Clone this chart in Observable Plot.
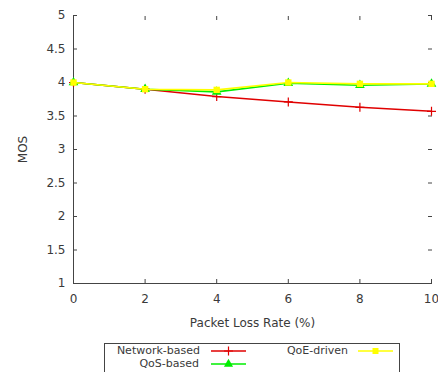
<!DOCTYPE html>
<html><head><meta charset="utf-8">
<script src="https://cdn.jsdelivr.net/npm/d3@7"></script>
<script src="https://cdn.jsdelivr.net/npm/@observablehq/plot@0.6"></script>
<style>
body{margin:0;background:#fff;font-family:"DejaVu Sans",sans-serif;}
#wrap{position:relative;width:438px;height:372px;overflow:hidden;}
#legend{position:absolute;left:104px;top:343px;width:296px;height:40px;border:1px solid #444;box-sizing:border-box;font-size:11px;color:#3a3a3a;}
.lt{position:absolute;text-align:right;white-space:nowrap;}
.ls{position:absolute;}
</style></head>
<body><div id="wrap"><div id="chart"></div><div id="legend"></div></div>
<script>
const lossRate = [0, 2, 4, 6, 8, 10];
const networkBased = [4.0, 3.9, 3.79, 3.71, 3.63, 3.57];
const qosBased = [4.0, 3.9, 3.86, 3.99, 3.96, 3.98];
const qoeDriven = [4.0, 3.9, 3.89, 4.0, 3.98, 3.98];
const seriesNames = ["Network-based", "QoS-based", "QoE-driven"];
const seriesColors = ["#e00000", "#00ee00", "#ffff00"];
const seriesSymbols = ["plus", "triangle", "square"];
const xTicks = [0, 2, 4, 6, 8, 10];
const yTicks = [1, 1.5, 2, 2.5, 3, 3.5, 4, 4.5, 5];

const allSeries = [networkBased, qosBased, qoeDriven];
const data = allSeries.flatMap((vals, i) => vals.map((v, j) => ({x: lossRate[j], y: v, s: seriesNames[i]})));
const fmt = d => String(d);
const marks = [
  Plot.ruleX([0], {stroke: "#444"}),
  Plot.ruleY([1], {stroke: "#444"}),
  Plot.axisX({ticks: xTicks, tickSize: 0, tickPadding: 11, tickFormat: fmt, fontSize: 12, color: "#3a3a3a", label: "Packet Loss Rate (%)", labelAnchor: "center", labelArrow: "none", labelOffset: 43}),
  Plot.axisX({ticks: xTicks, tickSize: -4, tickFormat: () => "", label: null, stroke: "#444"}),
  Plot.axisX({anchor: "top", ticks: xTicks, tickSize: -4, tickFormat: () => "", label: null, stroke: "#444"}),
  Plot.axisY({ticks: yTicks, tickSize: 0, tickPadding: 8, tickFormat: fmt, fontSize: 12, color: "#3a3a3a", label: "MOS", labelAnchor: "center", labelArrow: "none", labelOffset: 55}),
  Plot.axisY({ticks: yTicks, tickSize: -4, tickFormat: () => "", label: null, stroke: "#444"}),
  Plot.axisY({anchor: "right", ticks: yTicks, tickSize: -4, tickFormat: () => "", label: null, stroke: "#444"})
];
seriesNames.forEach((name, i) => {
  const d = data.filter(r => r.s === name);
  marks.push(Plot.line(d, {x: "x", y: "y", stroke: seriesColors[i], strokeWidth: 1.6}));
  if (seriesSymbols[i] === "plus")
    marks.push(Plot.dot(d, {x: "x", y: "y", symbol: "plus", stroke: seriesColors[i], strokeWidth: 1.2, r: 3}));
  else
    marks.push(Plot.dot(d, {x: "x", y: "y", symbol: seriesSymbols[i], fill: seriesColors[i], stroke: "none", r: 3.6}));
});
const chart = Plot.plot({
  width: 438, height: 343,
  marginLeft: 73, marginRight: 7, marginTop: 15, marginBottom: 60,
  style: {fontFamily: "DejaVu Sans, sans-serif", fontSize: "12px", color: "#3a3a3a", background: "white", overflow: "visible"},
  x: {domain: [0, 10]},
  y: {domain: [1, 5]},
  marks
});
document.getElementById("chart").appendChild(chart);

// legend
const leg = document.getElementById("legend");
const items = [
  {name: seriesNames[0], color: seriesColors[0], sym: "plus", tx: 97, sx: 106, y: 7},
  {name: seriesNames[1], color: seriesColors[1], sym: "triangle", tx: 96, sx: 106, y: 20},
  {name: seriesNames[2], color: seriesColors[2], sym: "square", tx: 245, sx: 253, y: 7}
];
items.forEach(it => {
  const t = document.createElement("div");
  t.className = "lt";
  t.textContent = it.name;
  t.style.right = (296 - it.tx) + "px";
  t.style.top = (it.y - 7) + "px";
  t.style.lineHeight = "14px";
  leg.appendChild(t);
  const s = document.createElementNS("http://www.w3.org/2000/svg", "svg");
  s.setAttribute("width", 36); s.setAttribute("height", 14);
  s.setAttribute("class", "ls");
  s.style.left = it.sx + "px"; s.style.top = (it.y - 7) + "px";
  const sym = {plus: d3.symbolPlus, triangle: d3.symbolTriangle, square: d3.symbolSquare}[it.sym];
  const path = d3.symbol(sym, it.sym === "plus" ? 28 : 36)();
  s.innerHTML = `<line x1="0" x2="35" y1="7" y2="7" stroke="${it.color}" stroke-width="1.6"/>` +
    (it.sym === "plus"
      ? `<path d="${path}" transform="translate(17.5,7)" fill="none" stroke="${it.color}" stroke-width="1.2"/>`
      : `<path d="${path}" transform="translate(17.5,7)" fill="${it.color}"/>`);
  leg.appendChild(s);
});
</script></body></html>
